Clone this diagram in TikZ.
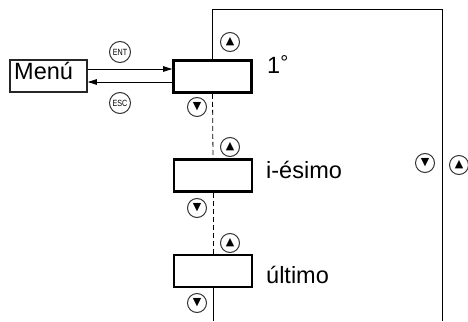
\documentclass[tikz,border=0pt]{standalone}
\usepackage{fontspec}
\setmainfont{Liberation Sans}
\newfontfamily\symfont{DejaVu Sans}
\usetikzlibrary{arrows.meta,calc}
\begin{document}
\begin{tikzpicture}[x=1pt,y=-1pt,
  lbl/.style={anchor=base west,inner sep=0pt,font=\fontsize{23.5}{23.5}\selectfont},
  menubox/.style={draw=black!85,line width=1.6pt,minimum width=77pt,minimum height=32pt,inner sep=0pt},
  disp/.style={draw=black,line width=2.6pt,minimum width=78pt,minimum height=32pt,inner sep=0pt},
  btn/.style={circle,draw=black!80,line width=1pt,minimum size=19pt,inner sep=0pt,font=\symfont\fontsize{11}{11}\selectfont},
  kbtn/.style={circle,draw=black!80,line width=1pt,minimum size=21pt,inner sep=0pt,font=\fontsize{9}{9}\selectfont},
  tip/.style={-{Triangle[length=9pt,width=5.5pt]},line width=0.8pt}]
\useasboundingbox (0,0) rectangle (468,321);
% nodes
\node[menubox] (menu) at (48.5,76) {};
\node[lbl] (menut) at (14,79) {Menú};
\node[disp] (b1) at (212.5,76.5) {};
\node[disp] (b2) at (213,175.5) {};
\node[disp] (b3) at (213,271) {};
\node[lbl] (t1) at (267,74) {1\raisebox{5pt}{\fontsize{20}{20}\selectfont °}};
\node[lbl] (t2) at (266,178) {i-ésimo};
\node[lbl] (t3) at (266,283) {último};
\node[kbtn] (ent) at (120,52) {\scalebox{0.8}[1]{ENT}};
\node[kbtn] (esc) at (120,103) {\scalebox{0.8}[1]{ESC}};
\node[btn] (u1) at (230,42) {▲};
\node[btn] (d1) at (197,107) {▼};
\node[btn] (u2) at (230,147) {▲};
\node[btn] (d2) at (197,208) {▼};
\node[btn] (u3) at (230,243) {▲};
\node[btn] (d3) at (197,303) {▼};
\node[btn] (dr) at (425,163) {▼};
\node[btn] (ur) at (459,165) {▲};
\coordinate (tl) at (212.5,9);
\coordinate (tr) at (442,9);
\coordinate (br) at (442,321);
\coordinate (bl) at (213,321);
% frame
\draw[line width=0.8pt] (b1.north) -- (tl) -- (tr) -- (br);
\draw[line width=0.8pt,dash pattern=on 5pt off 3pt] (b1.south) -- (b2.north);
\draw[line width=0.8pt,dash pattern=on 5pt off 3pt] (b2.south) -- (b3.north);
\draw[line width=0.8pt] (b3.south) -- (bl);
% arrows
\draw[tip] ($(menu.east)+(0,-7)$) -- ($(b1.west)+(0,-7.5)$);
\draw[tip] ($(b1.west)+(0,5.5)$) -- ($(menu.east)+(0,6)$);
\end{tikzpicture}
\end{document}
